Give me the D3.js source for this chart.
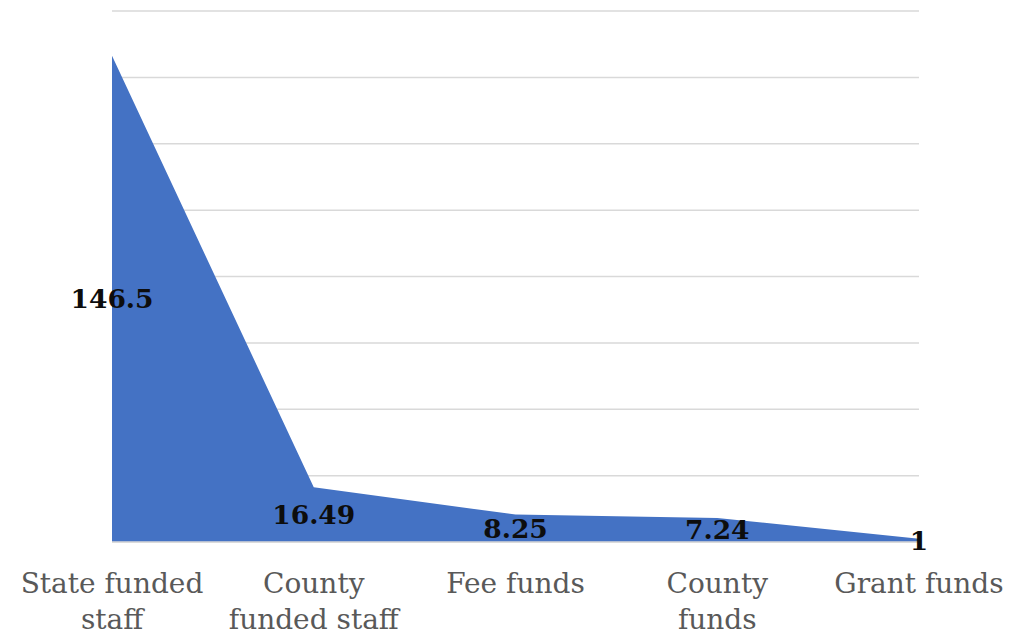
<!DOCTYPE html>
<html>
<head>
<meta charset="utf-8">
<script src="https://cdn.jsdelivr.net/npm/d3@7"></script>
<style>
  html, body { margin: 0; padding: 0; background: #fff; }
  svg { display: block; }
</style>
</head>
<body>
<svg id="chart" width="1015" height="637"></svg>
<script>
const categories = ["State funded staff", "County funded staff", "Fee funds", "County funds", "Grant funds"];
const values = [146.5, 16.49, 8.25, 7.24, 1];
const yTicks = [0, 20, 40, 60, 80, 100, 120, 140, 160];

const svg = d3.select("#chart");
const x = d3.scalePoint().domain(categories).range([112, 919]);
const y = d3.scaleLinear().domain([0, 160]).range([542, 11]);

// gridlines
svg.append("g").selectAll("line").data(yTicks).join("line")
  .attr("x1", 112).attr("x2", 919)
  .attr("y1", d => y(d)).attr("y2", d => y(d))
  .attr("stroke", "#d9d9d9").attr("stroke-width", 1.5);

const data = categories.map((c, i) => ({ c, v: values[i] }));

const area = d3.area().x(d => x(d.c)).y0(y(0)).y1(d => y(d.v));
svg.append("path").datum(data).attr("d", area).attr("fill", "#4472c4");

// baseline
svg.append("line").attr("x1", 112).attr("x2", 919)
  .attr("y1", y(0)).attr("y2", y(0))
  .attr("stroke", "#d9d9d9").attr("stroke-width", 1.5);

// data labels
svg.append("g").selectAll("text").data(data).join("text")
  .attr("x", d => x(d.c)).attr("y", d => y(d.v / 2))
  .attr("text-anchor", "middle").attr("dominant-baseline", "central")
  .attr("font-family", "DejaVu Serif").attr("font-weight", "bold")
  .attr("font-size", 26.5).attr("fill", "#0d0d0d")
  .text(d => d.v);

// category labels with wrapping
const catG = svg.append("g");
categories.forEach(c => {
  const t = catG.append("text")
    .attr("x", x(c)).attr("y", 593)
    .attr("text-anchor", "middle")
    .attr("font-family", "DejaVu Serif").attr("font-size", 28)
    .attr("fill", "#595959");
  const words = c.split(" ");
  let line = [];
  let tspan = t.append("tspan").attr("x", x(c)).attr("dy", 0);
  words.forEach(w => {
    line.push(w);
    tspan.text(line.join(" "));
    if (tspan.node().getComputedTextLength() > 184 && line.length > 1) {
      line.pop();
      tspan.text(line.join(" "));
      line = [w];
      tspan = t.append("tspan").attr("x", x(c)).attr("dy", 36).text(w);
    }
  });
});
</script>
</body>
</html>
